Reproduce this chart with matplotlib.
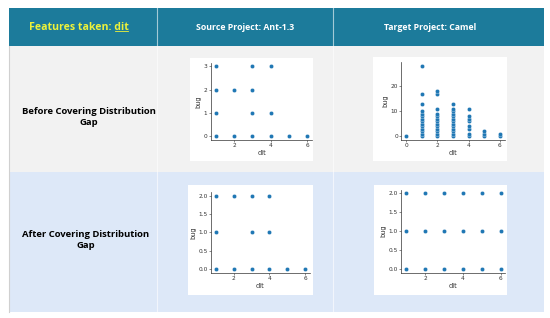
import matplotlib
matplotlib.use("Agg")
import matplotlib.pyplot as plt
from matplotlib.patches import Rectangle
from matplotlib.lines import Line2D

W, H = 550, 318

# header / row texts
header_left = "Features taken: "
header_feat = "dit"
header_src = "Source Project: Ant-1.3"
header_tgt = "Target Project: Camel"
row_labels = ["Before Covering Distribution\nGap", "After Covering Distribution\nGap"]

# Source project (Ant-1.3), before covering the gap
src_before_dit = [1, 1, 1, 1, 2, 2, 3, 3, 3, 3, 4, 4, 4, 5, 6]
src_before_bug = [0, 1, 2, 3, 0, 2, 0, 1, 2, 3, 0, 1, 3, 0, 0]

# Target project (Camel), before covering the gap
tgt_before_dit = [0,
                  1, 1, 1, 1, 1, 1, 1, 1, 1, 1, 1, 1, 1, 1,
                  2, 2, 2, 2, 2, 2, 2, 2, 2, 2, 2, 2, 2,
                  3, 3, 3, 3, 3, 3, 3, 3, 3, 3, 3, 3, 3,
                  4, 4, 4, 4, 4, 4, 4, 4,
                  5, 5, 5,
                  6, 6]
tgt_before_bug = [0,
                  0, 1, 2, 3, 4, 5, 6, 7, 8, 9, 10, 13, 17, 28,
                  0, 1, 2, 3, 4, 5, 6, 7, 8, 9, 11, 17, 18,
                  0, 1, 2, 3, 4, 5, 6, 7, 8, 9, 10, 11, 13,
                  0, 1, 3, 4, 6, 7, 8, 11,
                  0, 1, 2,
                  0, 1]

# after covering the gap
src_after_dit = [1, 1, 1, 2, 2, 3, 3, 3, 4, 4, 4, 5, 6]
src_after_bug = [0, 1, 2, 0, 2, 0, 1, 2, 0, 1, 2, 0, 0]

tgt_after_dit = [1, 1, 1, 2, 2, 2, 3, 3, 3, 4, 4, 4, 5, 5, 5, 6, 6, 6]
tgt_after_bug = [0, 1, 2, 0, 1, 2, 0, 1, 2, 0, 1, 2, 0, 1, 2, 0, 1, 2]


def fx(x):
    return x / W


def fy(y):
    return 1 - y / H


def rect(fig, x0, y0, x1, y1, color, z=0):
    fig.patches.append(Rectangle((fx(x0), fy(y1)), fx(x1) - fx(x0), fy(y0) - fy(y1),
                                 transform=fig.transFigure, facecolor=color,
                                 edgecolor="none", zorder=z))


fig = plt.figure(figsize=(5.5, 3.18), dpi=100)
fig.patch.set_facecolor("white")

# table cells
c0, c1, c2, c3 = 9, 157, 333, 544
r0, r1, r2, r3 = 8, 46, 172, 312
rect(fig, c0, r0, c3, r1, "#1c7b9b", -3)
rect(fig, c0, r1, c3, r2, "#f2f2f2", -3)
rect(fig, c0, r2, c3, r3, "#dde8f8", -3)
for cx in (c1, c2):
    fig.add_artist(Line2D([fx(cx), fx(cx)], [fy(r0), fy(r3)], color="white",
                          lw=0.8, alpha=0.6, zorder=-2, transform=fig.transFigure))
fig.add_artist(Line2D([fx(c0), fx(c0)], [fy(r1), fy(r3)], color="#d0d0d0",
                      lw=0.8, zorder=-2, transform=fig.transFigure))

font = "Open Sans"
t = fig.text(fx(79), fy(27), header_left + header_feat, ha="center", va="center",
             fontsize=7.6, fontweight="bold", color="#eef23a", family=font)
fig.text(fx(245), fy(27), header_src, ha="center", va="center",
         fontsize=6.3, fontweight="bold", color="white", family=font)
fig.text(fx(430), fy(27), header_tgt, ha="center", va="center",
         fontsize=6.3, fontweight="bold", color="white", family=font)
fig.text(fx(89), fy(117), row_labels[0], ha="center", va="center",
         fontsize=6.8, fontweight="bold", color="black", family=font, linespacing=1.25)
fig.text(fx(86), fy(240), row_labels[1], ha="center", va="center",
         fontsize=6.8, fontweight="bold", color="black", family=font, linespacing=1.25)

# underline "dit"
r = fig.canvas.get_renderer()
bb = t.get_window_extent(r)
tmp = fig.text(0, 0, header_feat, fontsize=7.6, fontweight="bold", family=font)
wb = tmp.get_window_extent(r)
tmp.remove()
uy = bb.y0 + 2
fig.add_artist(Line2D([(bb.x1 - wb.width + 1) / W, (bb.x1 - 1) / W], [uy / H, uy / H],
                      color="#eef23a", lw=0.6, transform=fig.transFigure))

# scatter panels: white box, axes box (pixels), data, limits, ticks
panels = [
    ((190, 58, 313, 161), (211, 63, 312, 139.5), src_before_dit, src_before_bug,
     [2, 4, 6], [0, 1, 2, 3], (0.75, 6.25), (-0.15, 3.15)),
    ((373, 57, 507, 161), (401.4, 62.5, 504.6, 139.5), tgt_before_dit, tgt_before_bug,
     [0, 2, 4, 6], [0, 10, 20], (-0.3, 6.3), (-1.4, 29.4)),
    ((188, 185, 313, 295), (211.3, 192.3, 309.7, 272.6), src_after_dit, src_after_bug,
     [2, 4, 6], [0.0, 0.5, 1.0, 1.5, 2.0], (0.75, 6.25), (-0.1, 2.1)),
    ((374, 185, 507, 295), (401.4, 189.6, 505.4, 272.5), tgt_after_dit, tgt_after_bug,
     [2, 4, 6], [0.0, 0.5, 1.0, 1.5, 2.0], (0.75, 6.25), (-0.1, 2.1)),
]

for box, ab, xs, ys, xt, yt, xl, yl in panels:
    rect(fig, *box, "white", -1)
    ax = fig.add_axes([fx(ab[0]), fy(ab[3]), fx(ab[2]) - fx(ab[0]), fy(ab[1]) - fy(ab[3])])
    ax.set_zorder(1)
    ax.patch.set_alpha(0)
    ax.scatter(xs, ys, s=9, color="#1f77b4", edgecolor="white", linewidth=0.2, zorder=3)
    ax.set_xlim(*xl)
    ax.set_ylim(*yl)
    ax.set_xticks(xt)
    ax.set_yticks(yt)
    if isinstance(yt[0], float):
        ax.set_yticklabels([f"{v:.1f}" for v in yt])
    ax.tick_params(labelsize=4.2, length=1.5, width=0.4, pad=1, colors="#333333")
    for s in ("top", "right"):
        ax.spines[s].set_visible(False)
    for s in ("left", "bottom"):
        ax.spines[s].set_linewidth(0.5)
        ax.spines[s].set_color("#333333")
    ax.set_xlabel("dit", fontsize=4.8, labelpad=1.5, color="#333333")
    ax.set_ylabel("bug", fontsize=4.8, labelpad=1.5, color="#333333")

fig.savefig("out.png", dpi=100)
